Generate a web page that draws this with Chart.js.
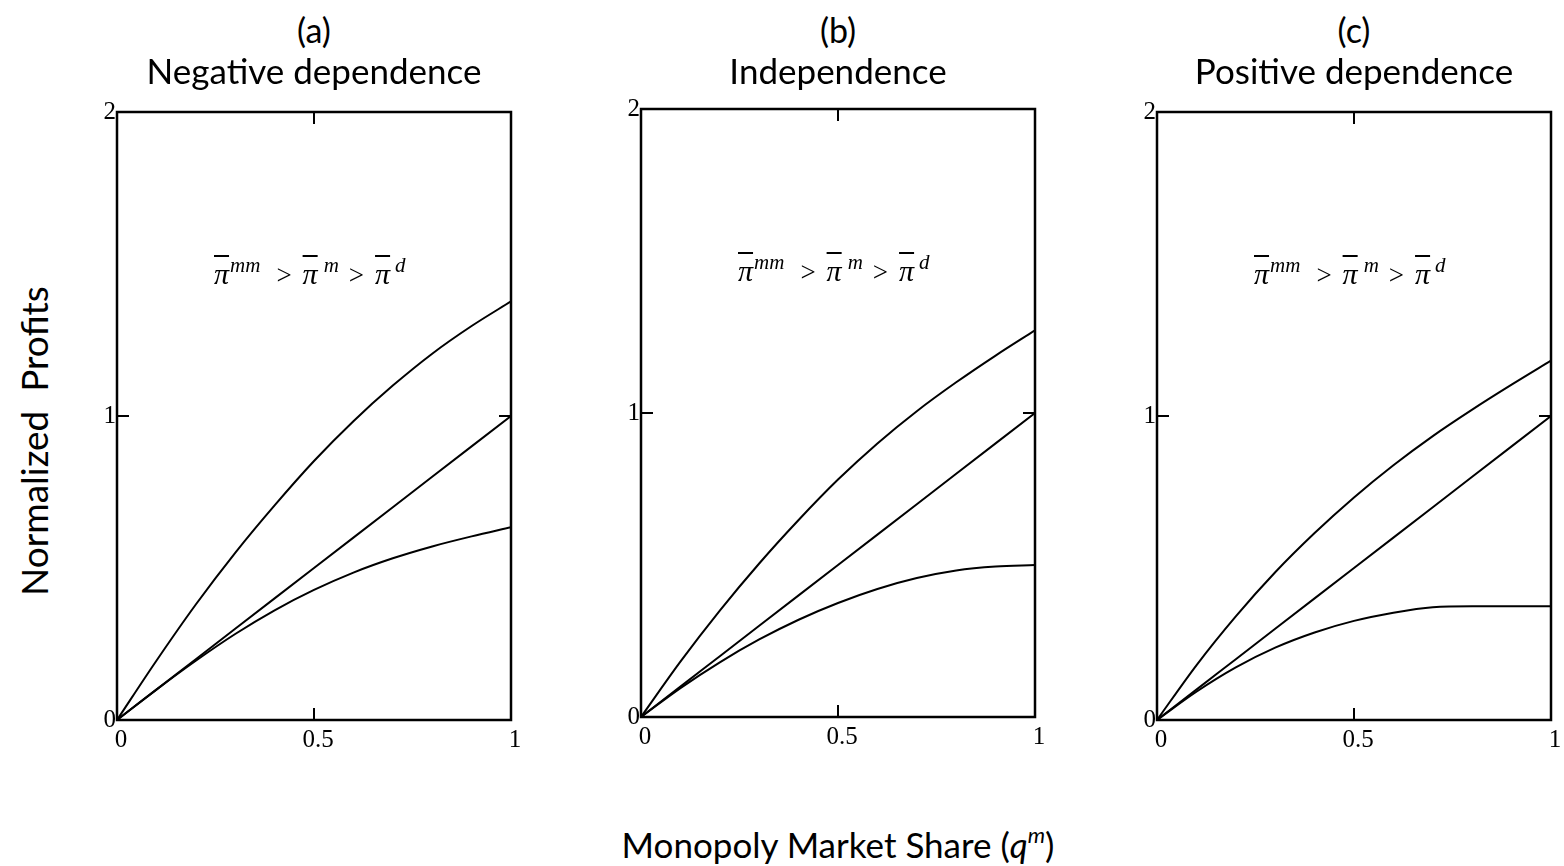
<!DOCTYPE html>
<html>
<head>
<meta charset="utf-8">
<script src="https://cdn.jsdelivr.net/npm/chart.js@4.4.1/dist/chart.umd.min.js"></script>
<style>
html,body{margin:0;padding:0;background:#fff;width:1564px;height:866px;overflow:hidden;position:relative;}
canvas{position:absolute;}
.txt{position:absolute;font-family:Lato,'Open Sans',sans-serif;color:#000;white-space:nowrap;line-height:1;}
.ctr{transform:translateX(-50%);text-align:center;}
.ann{position:absolute;font-family:'Liberation Serif','Times New Roman',serif;font-style:italic;color:#000;white-space:nowrap;font-size:30px;line-height:30px;}
.ann span{display:inline-block;}
.pi{text-decoration:overline;text-decoration-thickness:1.5px;}
.sup{font-size:21px;position:relative;top:-12px;}
.gt{font-style:normal;font-size:27px;}
</style>
</head>
<body>
<script>
// ---------------- data ----------------
const qValues = [0, 0.1, 0.2, 0.3, 0.4, 0.5, 0.6, 0.7, 0.8, 0.9, 1];
const panelLetters = ['(a)', '(b)', '(c)'];
const panelTitles = ['Negative dependence', 'Independence', 'Positive dependence'];
const xTickValues = [0, 0.5, 1];
const yTickValues = [0, 1, 2];
const yAxisTitle = 'Normalized\u00a0\u00a0Profits';
const xAxisTitle = 'Monopoly Market Share (';

// (a) negative dependence
const negMM = [0, 0.195, 0.38, 0.55, 0.706, 0.852, 0.983, 1.10, 1.205, 1.296, 1.377];
const negM  = [0, 0.1, 0.2, 0.3, 0.4, 0.5, 0.6, 0.7, 0.8, 0.9, 1.0];
const negD  = [0, 0.1, 0.195, 0.283, 0.361, 0.428, 0.485, 0.532, 0.571, 0.604, 0.634];
// (b) independence
const indMM = [0, 0.182, 0.35, 0.505, 0.648, 0.781, 0.90, 1.006, 1.101, 1.189, 1.272];
const indM  = [0, 0.1, 0.2, 0.3, 0.4, 0.5, 0.6, 0.7, 0.8, 0.9, 1.0];
const indD  = [0, 0.095, 0.18, 0.255, 0.32, 0.375, 0.421, 0.457, 0.482, 0.495, 0.5];
// (c) positive dependence
const posMM = [0, 0.18, 0.341, 0.486, 0.615, 0.732, 0.838, 0.934, 1.021, 1.103, 1.182];
const posM  = [0, 0.1, 0.2, 0.3, 0.4, 0.5, 0.6, 0.7, 0.8, 0.9, 1.0];
const posD  = [0, 0.093, 0.173, 0.238, 0.288, 0.326, 0.353, 0.371, 0.374, 0.374, 0.374];

const panelSeries = [[negMM, negM, negD], [indMM, indM, indD], [posMM, posM, posD]];

// ---------------- layout ----------------
const plotBoxes = [
  {left: 117, right: 511, top: 112, bottom: 720},
  {left: 641, right: 1035, top: 109, bottom: 717},
  {left: 1157, right: 1551, top: 112, bottom: 720}
];
const Y_AXIS_W = 57, X_AXIS_H = 50, PAD_TOP = 22;

const framePlugin = {
  id: 'frame',
  afterDraw(chart) {
    const {ctx, chartArea: a, scales} = chart;
    ctx.save();
    ctx.strokeStyle = '#000';
    ctx.lineWidth = 2.5;
    ctx.strokeRect(a.left, a.top, a.right - a.left, a.bottom - a.top);
    ctx.lineWidth = 2;
    const xm = scales.x.getPixelForValue(0.5);
    const y1 = scales.y.getPixelForValue(1);
    const L = 12;
    ctx.beginPath();
    ctx.moveTo(xm, a.bottom); ctx.lineTo(xm, a.bottom - L);
    ctx.moveTo(xm, a.top); ctx.lineTo(xm, a.top + L);
    ctx.moveTo(a.left, y1); ctx.lineTo(a.left + L, y1);
    ctx.moveTo(a.right, y1); ctx.lineTo(a.right - L, y1);
    ctx.stroke();
    ctx.restore();
  }
};

function addText(cls, text, left, top, size, extraStyle) {
  const d = document.createElement('div');
  d.className = cls;
  d.style.left = left + 'px';
  d.style.top = top + 'px';
  d.style.fontSize = size + 'px';
  if (extraStyle) Object.assign(d.style, extraStyle);
  d.textContent = text;
  document.body.appendChild(d);
  return d;
}

plotBoxes.forEach((b, p) => {
  const padRight = Math.min(29, 1564 - b.right);
  const cw = (b.right - b.left) + Y_AXIS_W + padRight;
  const ch = (b.bottom - b.top) + PAD_TOP + X_AXIS_H;
  const cv = document.createElement('canvas');
  cv.width = cw; cv.height = ch;
  cv.style.left = (b.left - Y_AXIS_W) + 'px';
  cv.style.top = (b.top - PAD_TOP) + 'px';
  cv.style.width = cw + 'px'; cv.style.height = ch + 'px';
  document.body.appendChild(cv);

  const tickFont = {family: "'Liberation Serif','Times New Roman',serif", size: 25};
  new Chart(cv, {
    type: 'line',
    data: {
      datasets: panelSeries[p].map(arr => ({
        data: qValues.map((q, i) => ({x: q, y: arr[i]})),
        borderColor: '#000',
        borderWidth: 2,
        pointRadius: 0,
        fill: false,
        cubicInterpolationMode: 'monotone'
      }))
    },
    options: {
      responsive: false,
      animation: false,
      events: [],
      devicePixelRatio: 1,
      layout: {padding: {top: PAD_TOP, right: padRight, left: 0, bottom: 0}},
      plugins: {legend: {display: false}, tooltip: {enabled: false}},
      scales: {
        x: {
          type: 'linear', min: 0, max: 1,
          afterBuildTicks: s => { s.ticks = xTickValues.map(v => ({value: v})); },
          afterFit: s => { s.height = X_AXIS_H; },
          ticks: {callback: v => String(v), font: tickFont, color: '#000', padding: 5, labelOffset: 4, maxRotation: 0, autoSkip: false},
          grid: {display: false, drawTicks: false},
          border: {display: false}
        },
        y: {
          type: 'linear', min: 0, max: 2,
          afterBuildTicks: s => { s.ticks = yTickValues.map(v => ({value: v})); },
          afterFit: s => { s.width = Y_AXIS_W; },
          ticks: {callback: v => String(v), font: tickFont, color: '#000', padding: 1, autoSkip: false},
          grid: {display: false, drawTicks: false},
          border: {display: false}
        }
      }
    },
    plugins: [framePlugin]
  });

  const cx = (b.left + b.right) / 2;
  addText('txt ctr', panelLetters[p], cx, 13, 34);
  addText('txt ctr', panelTitles[p], cx, 53, 35);

  // annotation
  const ann = document.createElement('div');
  ann.className = 'ann';
  ann.style.left = (b.left + 97) + 'px';
  ann.style.top = (b.top + 147) + 'px';
  ann.innerHTML =
    '<span class="pi">\u03c0</span><span class="sup" style="margin-left:1px">mm</span>' +
    '<span class="gt" style="margin-left:16px">&gt;</span>' +
    '<span class="pi" style="margin-left:11px">\u03c0</span><span class="sup" style="margin-left:6px">m</span>' +
    '<span class="gt" style="margin-left:10px">&gt;</span>' +
    '<span class="pi" style="margin-left:11px">\u03c0</span><span class="sup" style="margin-left:5px">d</span>';
  document.body.appendChild(ann);
});

// axis titles
addText('txt', yAxisTitle, 33, 441, 37, {transform: 'translate(-50%,-50%) rotate(-90deg)'});
const xt = document.createElement('div');
xt.className = 'txt ctr';
xt.style.left = '838px';
xt.style.top = '826px';
xt.style.fontSize = '35px';
xt.innerHTML = xAxisTitle + '<i>q</i><sup style="font-size:22px;font-style:italic;position:relative;top:-2px;">m</sup>)';
document.body.appendChild(xt);
</script>
</body>
</html>
